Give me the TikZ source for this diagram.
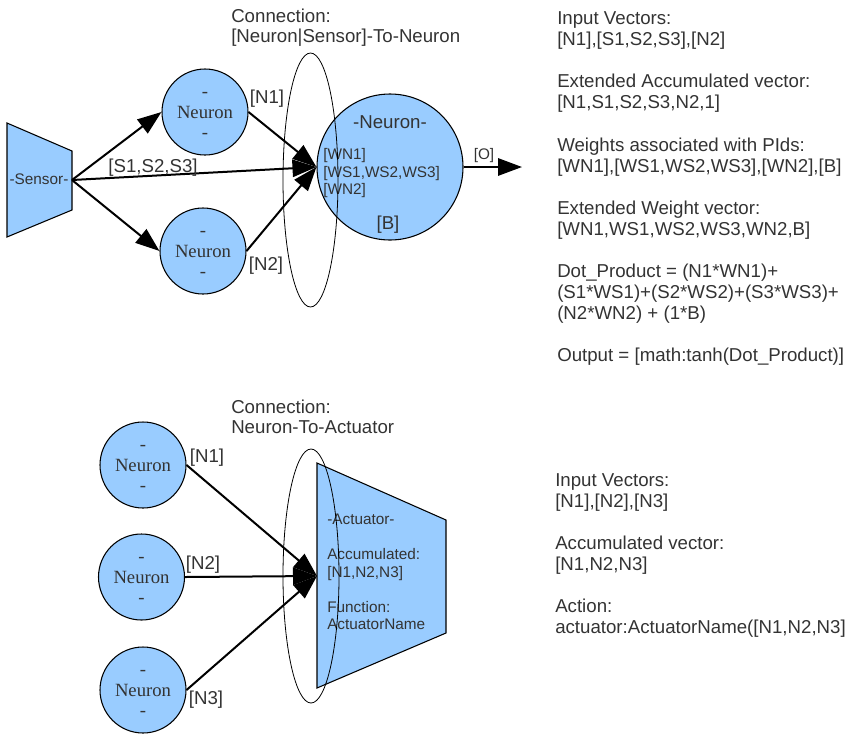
\documentclass[tikz,border=0pt]{standalone}
\usepackage{fontspec}
\setmainfont{Liberation Sans}
\newfontfamily\serifneu{Liberation Serif}
\usetikzlibrary{arrows.meta,shapes.geometric}
\definecolor{nblue}{HTML}{99CCFF}
\definecolor{txtgray}{HTML}{333333}
\newcommand{\neutext}{\rule{0pt}{9.6pt}-\\Neuron\\-}
\tikzset{
 txt/.style={font=\fontsize{14}{16}\selectfont, text=txtgray, inner sep=0pt},
 stxt/.style={font=\fontsize{11.5}{13}\selectfont, text=txtgray, inner sep=0pt},
 neu/.style={circle, draw=black, fill=nblue, line width=0.8pt, minimum size=64.5pt, inner sep=0pt, align=center, text=txtgray, font=\serifneu\fontsize{14}{15.4}\selectfont},
 bigneu/.style={circle, draw=black, fill=nblue, line width=0.8pt, minimum size=109.5pt, inner sep=0pt},
 conn/.style={ellipse, draw=black, line width=0.6pt, inner sep=0pt},
 arr/.style={line width=1.5pt, -{Triangle[length=18pt,width=13pt]}},
 shapeblk/.style={draw=black, fill=nblue, line width=0.8pt},
}
\begin{document}
\begin{tikzpicture}[x=0.75pt,y=-0.75pt]
\useasboundingbox (0,0) rectangle (850,733);
% ---------- top: sensor/neuron to neuron ----------
\draw[shapeblk] (7,123) -- (72,151) -- (72,210) -- (7,237) -- cycle;
\coordinate (sensorR) at (72,180);
\node[stxt, anchor=base] (sensorlbl) at (39,184.5) {-Sensor-};
\node[neu] (n1) at (205,112) {\neutext};
\node[neu] (n2) at (203,251) {\neutext};
\node[bigneu] (bn) at (390,167) {};
\node[txt, anchor=base] (bnt) at (390,128.7) {-Neuron-};
\node[stxt, anchor=base west] (w1) at (323,159.5) {[WN1]};
\node[stxt, anchor=base west] (w2) at (323,177.5) {[WS1,WS2,WS3]};
\node[stxt, anchor=base west] (w3) at (323,194.5) {[WN2]};
\node[txt, anchor=base] (bb) at (388,229.7) {[B]};
\node[conn, minimum width=41.25pt, minimum height=190.5pt] (e1) at (310.5,180) {};
\coordinate (out) at (522,167);
\draw[arr] (sensorR) -- (n1.west);
\draw[arr] (sensorR) -- (n2.west);
\draw[arr] (sensorR) -- (bn.west);
\draw[arr] (n1.east) -- (bn.west);
\draw[arr] (n2.east) -- (bn.west);
\draw[arr] (bn.east) -- (out);
\node[txt, anchor=base] (ls) at (153,172.7) {[S1,S2,S3]};
\node[txt, anchor=base] (ln1) at (267,103.7) {[N1]};
\node[txt, anchor=base] (ln2) at (266,270.7) {[N2]};
\node[stxt, anchor=base] (lo) at (484,159.5) {[O]};
\node[txt, anchor=base west] (c1a) at (231,22.7) {Connection:};
\node[txt, anchor=base west] (c1b) at (231,42.7) {[Neuron|Sensor]-To-Neuron};
\foreach \k/\t in {0/{Input Vectors:},1/{[N1],[S1,S2,S3],[N2]},3/{Extended Accumulated vector:},4/{[N1,S1,S2,S3,N2,1]},6/{Weights associated with PIds:},7/{[WN1],[WS1,WS2,WS3],[WN2],[B]},9/{Extended Weight vector:},10/{[WN1,WS1,WS2,WS3,WN2,B]},12/{Dot\_Product = (N1*WN1)+},13/{(S1*WS1)+(S2*WS2)+(S3*WS3)+},14/{(N2*WN2) + (1*B)},16/{Output = [math:tanh(Dot\_Product)]}}
  \node[txt, anchor=base west] (ra\k) at (557,{24.7+21.06*\k}) {\t};
% ---------- bottom: neuron to actuator ----------
\node[neu] (m1) at (143,465) {\neutext};
\node[neu] (m2) at (141.5,577) {\neutext};
\node[neu] (m3) at (143,690) {\neutext};
\draw[shapeblk] (317,463) -- (446,520) -- (446,633) -- (317,688) -- cycle;
\coordinate (actL) at (317,576);
\node[stxt, anchor=base west] (a1) at (327,524.5) {-Actuator-};
\node[stxt, anchor=base west] (a2) at (327,559.5) {Accumulated:};
\node[stxt, anchor=base west] (a3) at (327,577) {[N1,N2,N3]};
\node[stxt, anchor=base west] (a4) at (327,612) {Function:};
\node[stxt, anchor=base west] (a5) at (327,629.5) {ActuatorName};
\node[conn, minimum width=42pt, minimum height=190.5pt] (e2) at (311,576) {};
\draw[arr] (m1.east) -- (actL);
\draw[arr] (m2.east) -- (actL);
\draw[arr] (m3.east) -- (actL);
\node[txt, anchor=base] (lm1) at (207,462.7) {[N1]};
\node[txt, anchor=base] (lm2) at (203,569.7) {[N2]};
\node[txt, anchor=base] (lm3) at (206,704.7) {[N3]};
\node[txt, anchor=base west] (c2a) at (231,413.7) {Connection:};
\node[txt, anchor=base west] (c2b) at (231,433.7) {Neuron-To-Actuator};
\foreach \k/\t in {0/{Input Vectors:},1/{[N1],[N2],[N3]},3/{Accumulated vector:},4/{[N1,N2,N3]},6/{Action:},7/{actuator:ActuatorName([N1,N2,N3]}}
  \node[txt, anchor=base west] (rb\k) at (555,{486.7+21*\k}) {\t};
\end{tikzpicture}
\end{document}
